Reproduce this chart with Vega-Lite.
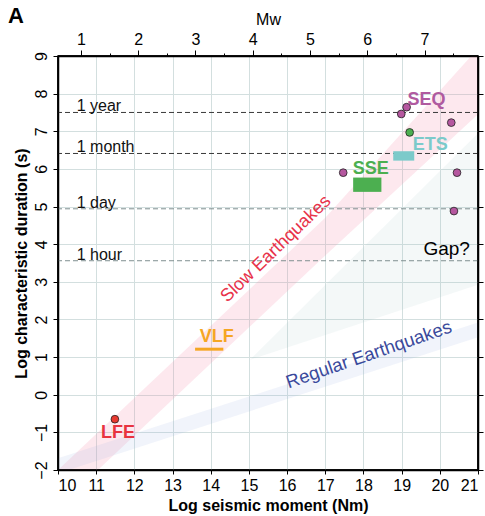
{
  "$schema": "https://vega.github.io/schema/vega-lite/v6.json",
  "width": 420,
  "height": 414,
  "autosize": "none",
  "padding": {"left": 58, "top": 56, "right": 7, "bottom": 46},
  "title": {"text": "A", "anchor": "start", "frame": "group", "fontSize": 22, "fontWeight": "bold", "dx": -50, "dy": 21, "color": "#000"},
  "config": {
    "font": "Liberation Sans",
    "view": {"stroke": "#000", "strokeWidth": 1.5},
    "axis": {"labelColor": "#000", "titleColor": "#000", "domain": true, "domainColor": "#000", "tickColor": "#000", "labelFontSize": 16, "titleFontSize": 16, "domainWidth": 1.5, "tickWidth": 1, "labelOverlap": false}
  },
  "datasets": {
    "slow": [{"x": 10, "y": -3.0, "y2": -2.0}, {"x": 17, "y": 3.7, "y2": 4.7}, {"x": 21, "y": 7.45, "y2": 9.2}],
    "regular": [{"x": 10, "y": -2.09, "y2": -1.69}, {"x": 21, "y": 1.53, "y2": 1.92}],
    "gap": [{"x": 15.03, "y": 0.93, "y2": 0.93}, {"x": 21, "y": 2.92, "y2": 6.95}],
    "times": [{"label": "1 year", "y": 7.5}, {"label": "1 month", "y": 6.41}, {"label": "1 day", "y": 4.94}, {"label": "1 hour", "y": 3.56}],
    "points": [
      {"type": "SEQ", "x": 19.13, "y": 7.64},
      {"type": "SEQ", "x": 18.99, "y": 7.46},
      {"type": "SEQ", "x": 20.3, "y": 7.23},
      {"type": "SEQ", "x": 17.47, "y": 5.9},
      {"type": "SEQ", "x": 20.45, "y": 5.9},
      {"type": "SEQ", "x": 20.37, "y": 4.88},
      {"type": "ETS", "x": 19.21, "y": 6.97},
      {"type": "LFE", "x": 11.49, "y": -0.65}
    ],
    "rects": [
      {"type": "SSE", "x": 17.73, "x2": 18.47, "y": 5.39, "y2": 5.77},
      {"type": "ETS", "x": 18.78, "x2": 19.33, "y": 6.22, "y2": 6.47}
    ],
    "vlf": [{"x": 13.59, "x2": 14.33, "y": 1.21}],
    "labels": [
      {"type": "SEQ", "x": 19.65, "y": 7.83},
      {"type": "ETS", "x": 19.75, "y": 6.63},
      {"type": "SSE", "x": 18.19, "y": 6.0},
      {"type": "VLF", "x": 14.16, "y": 1.53},
      {"type": "LFE", "x": 11.57, "y": -1.02}
    ],
    "gaptext": [{"text": "Gap?", "x": 20.18, "y": 3.87}],
    "slowtext": [{"text": "Slow Earthquakes", "x": 15.71, "y": 3.87}],
    "regtext": [{"text": "Regular Earthquakes", "x": 18.14, "y": 1.07}],
    "framex": [{"x": 10}, {"x": 21}],
    "framey": [{"y": -2}, {"y": 9}]
  },
  "layer": [
    {
      "data": {"name": "slow"},
      "mark": {"type": "area", "clip": true, "color": "#f48aa8", "opacity": 0.2},
      "encoding": {
        "x": {"field": "x", "type": "quantitative", "scale": {"domain": [10, 21], "nice": false, "zero": false},
              "axis": {"orient": "bottom", "values": [10, 11, 12, 13, 14, 15, 16, 17, 18, 19, 20, 21], "labelOverlap": false, "grid": true, "gridColor": "#d3dfdf",
                       "gridOpacity": {"condition": {"test": "datum.value == 10 || datum.value == 21", "value": 0}, "value": 1},
                       "domain": true, "domainColor": "#000", "title": "Log seismic moment (Nm)", "titleFontWeight": "bold", "tickSize": 4, "labelPadding": 3, "titlePadding": 4}},
        "y": {"field": "y", "type": "quantitative", "scale": {"domain": [-2, 9], "nice": false, "zero": false},
              "axis": {"orient": "left", "values": [-2, -1, 0, 1, 2, 3, 4, 5, 6, 7, 8, 9], "labelOverlap": false, "grid": true, "gridColor": "#d3dfdf",
                       "gridOpacity": {"condition": {"test": "datum.value == -2 || datum.value == 9", "value": 0}, "value": 1},
                       "domain": true, "domainColor": "#000", "labelAngle": -90, "title": "Log characteristic duration (s)", "titleFontWeight": "bold", "tickSize": 5, "labelPadding": 4, "titlePadding": 4}},
        "y2": {"field": "y2"}
      }
    },
    {
      "data": {"name": "regular"},
      "mark": {"type": "area", "clip": true, "color": "#8fa8dd", "opacity": 0.13},
      "encoding": {"x": {"field": "x", "type": "quantitative", "axis": null}, "y": {"field": "y", "type": "quantitative", "axis": null}, "y2": {"field": "y2"}}
    },
    {
      "data": {"name": "gap"},
      "mark": {"type": "area", "clip": true, "color": "#9cc2bc", "opacity": 0.11},
      "encoding": {"x": {"field": "x", "type": "quantitative", "axis": null}, "y": {"field": "y", "type": "quantitative", "axis": null}, "y2": {"field": "y2"}}
    },
    {
      "data": {"name": "times"},
      "mark": {"type": "rule", "strokeDash": [5, 3], "strokeWidth": 1},
      "encoding": {
        "y": {"field": "y", "type": "quantitative", "axis": null},
        "color": {"condition": {"test": "datum.label == '1 year' || datum.label == '1 month'", "value": "#3a3a3a"}, "value": "#7f8f90"}
      }
    },
    {
      "data": {"name": "times"},
      "mark": {"type": "text", "align": "left", "baseline": "alphabetic", "dy": -1, "fontSize": 16, "color": "#111"},
      "encoding": {"x": {"datum": 10.49, "type": "quantitative", "axis": null}, "y": {"field": "y", "type": "quantitative", "axis": null}, "text": {"field": "label"}}
    },
    {
      "data": {"name": "rects"},
      "mark": {"type": "rect", "strokeWidth": 1},
      "encoding": {
        "x": {"field": "x", "type": "quantitative", "axis": null}, "x2": {"field": "x2"},
        "y": {"field": "y", "type": "quantitative", "axis": null}, "y2": {"field": "y2"},
        "color": {"field": "type", "type": "nominal", "scale": {"domain": ["SEQ", "ETS", "SSE", "VLF", "LFE"], "range": ["#b05aa0", "#7ccaca", "#4caf50", "#f5a623", "#e8333f"]}, "legend": null}
      }
    },
    {
      "data": {"name": "vlf"},
      "mark": {"type": "rule", "strokeWidth": 3, "color": "#f5a623"},
      "encoding": {"x": {"field": "x", "type": "quantitative", "axis": null}, "x2": {"field": "x2"}, "y": {"field": "y", "type": "quantitative", "axis": null}}
    },
    {
      "data": {"name": "points"},
      "mark": {"type": "point", "filled": true, "size": 60, "stroke": "#222", "strokeWidth": 0.8, "opacity": 1},
      "encoding": {
        "x": {"field": "x", "type": "quantitative", "axis": null}, "y": {"field": "y", "type": "quantitative", "axis": null},
        "fill": {"field": "type", "type": "nominal", "scale": {"domain": ["SEQ", "ETS", "LFE"], "range": ["#b5579f", "#4caf50", "#e8392f"]}, "legend": null}
      }
    },
    {
      "data": {"name": "labels"},
      "mark": {"type": "text", "align": "center", "baseline": "middle", "fontSize": 18, "fontWeight": "bold"},
      "encoding": {
        "x": {"field": "x", "type": "quantitative", "axis": null}, "y": {"field": "y", "type": "quantitative", "axis": null}, "text": {"field": "type"},
        "color": {"field": "type", "type": "nominal", "scale": {"domain": ["SEQ", "ETS", "SSE", "VLF", "LFE"], "range": ["#b05aa0", "#7ccaca", "#4caf50", "#f5a623", "#e8333f"]}, "legend": null}
      }
    },
    {
      "data": {"name": "gaptext"},
      "mark": {"type": "text", "align": "center", "baseline": "middle", "fontSize": 19, "color": "#000"},
      "encoding": {"x": {"field": "x", "type": "quantitative", "axis": null}, "y": {"field": "y", "type": "quantitative", "axis": null}, "text": {"field": "text"}}
    },
    {
      "data": {"name": "slowtext"},
      "mark": {"type": "text", "align": "center", "baseline": "middle", "fontSize": 18, "angle": -44, "color": "#e8334a"},
      "encoding": {"x": {"field": "x", "type": "quantitative", "axis": null}, "y": {"field": "y", "type": "quantitative", "axis": null}, "text": {"field": "text"}}
    },
    {
      "data": {"name": "regtext"},
      "mark": {"type": "text", "align": "center", "baseline": "middle", "fontSize": 18.5, "angle": -19, "color": "#3b4a9c"},
      "encoding": {"x": {"field": "x", "type": "quantitative", "axis": null}, "y": {"field": "y", "type": "quantitative", "axis": null}, "text": {"field": "text"}}
    },
    {
      "data": {"name": "framex"},
      "mark": {"type": "rule", "strokeWidth": 1.5, "color": "#000"},
      "encoding": {"x": {"field": "x", "type": "quantitative", "axis": null}}
    },
    {
      "data": {"name": "framey"},
      "mark": {"type": "rule", "strokeWidth": 1.5, "color": "#000"},
      "encoding": {"y": {"field": "y", "type": "quantitative", "axis": null}}
    },
    {
      "data": {"values": [{"x": 10, "y": -2}]},
      "mark": {"type": "point", "opacity": 0},
      "encoding": {
        "x": {"field": "x", "type": "quantitative",
              "axis": {"orient": "top", "values": [10.6, 11.35, 12.1, 12.85, 13.6, 14.35, 15.1, 15.85, 16.6, 17.35, 18.1, 18.85, 19.6, 20.35],
                       "labelExpr": "abs((datum.value-9.1)*2/3 - round((datum.value-9.1)*2/3)) < 0.01 ? format(round((datum.value-9.1)*2/3), 'd') : ''",
                       "tickSize": {"condition": {"test": "abs((datum.value-9.1)*2/3 - round((datum.value-9.1)*2/3)) < 0.01", "value": 6}, "value": 3},
                       "grid": false, "title": "Mw", "titleFontWeight": "normal", "labelPadding": 3, "titlePadding": 4, "labelFlush": false, "labelOverlap": false}},
        "y": {"field": "y", "type": "quantitative",
              "axis": {"orient": "right", "values": [-2, -1, 0, 1, 2, 3, 4, 5, 6, 7, 8, 9], "labels": false, "grid": false, "title": null, "tickSize": 5}}
      }
    }
  ],
  "resolve": {"axis": {"x": "independent", "y": "independent"}}
}
